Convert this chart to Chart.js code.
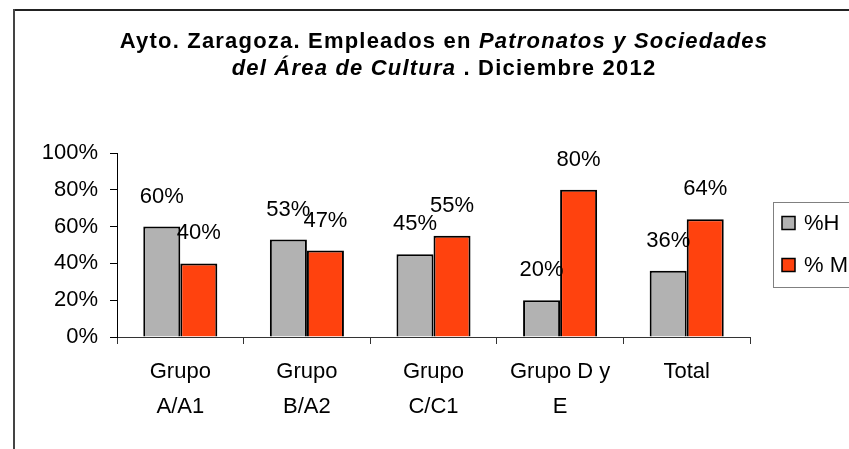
<!DOCTYPE html>
<html>
<head>
<meta charset="utf-8">
<script src="https://cdn.jsdelivr.net/npm/chart.js@4/dist/chart.umd.min.js"></script>
<style>
  body { margin: 0; background: #fff; }
  #grafico { display: block; }
</style>
</head>
<body>
<canvas id="grafico" width="849" height="449"></canvas>
<script>
// datos
const categorias = [
    ['Grupo', 'A/A1'],
    ['Grupo', 'B/A2'],
    ['Grupo', 'C/C1'],
    ['Grupo D y', 'E'],
    ['Total']
];
const porcentajeH = [60, 53, 45, 20, 36];
const porcentajeM = [40, 47, 55, 80, 64];
const nombresSeries = ['%H', '% M'];
const coloresSeries = ['#b2b2b2', '#ff420e'];

// titulo: trozos en cursiva o no
const tituloLinea1 = [
    { texto: 'Ayto. Zaragoza. Empleados en ', cursiva: false },
    { texto: 'Patronatos y Sociedades', cursiva: true }
];
const tituloLinea2 = [
    { texto: 'del Área de Cultura', cursiva: true },
    { texto: ' . Diciembre 2012', cursiva: false }
];

const fuente = '"Liberation Sans", Arial, sans-serif';

const pluginDecoracion = {
    id: 'decoracion',
    beforeDraw(chart) {
        const ctx = chart.ctx;
        ctx.save();
        // marco exterior
        ctx.strokeStyle = '#222';
        ctx.lineWidth = 2;
        ctx.beginPath();
        ctx.moveTo(14, 10);
        ctx.lineTo(849, 10);
        ctx.stroke();
        ctx.strokeStyle = '#444';
        ctx.beginPath();
        ctx.moveTo(14, 9);
        ctx.lineTo(14, 449);
        ctx.stroke();

        // titulo
        ctx.fillStyle = '#000';
        ctx.textBaseline = 'alphabetic';
        ctx.textAlign = 'left';
        ctx.letterSpacing = '1.2px';
        [[tituloLinea1, 48], [tituloLinea2, 75]].forEach(([trozos, y]) => {
            let ancho = 0;
            trozos.forEach(t => {
                ctx.font = (t.cursiva ? 'italic ' : '') + 'bold 22px ' + fuente;
                ancho += ctx.measureText(t.texto).width;
            });
            let x = 444 - ancho / 2;
            trozos.forEach(t => {
                ctx.font = (t.cursiva ? 'italic ' : '') + 'bold 22px ' + fuente;
                ctx.fillText(t.texto, x, y);
                x += ctx.measureText(t.texto).width;
            });
        });
        ctx.letterSpacing = '0px';
        ctx.restore();
    },
    afterDatasetsDraw(chart) {
        const ctx = chart.ctx;
        ctx.save();
        ctx.font = '22px ' + fuente;
        ctx.fillStyle = '#000';
        ctx.textAlign = 'center';
        ctx.textBaseline = 'middle';
        chart.data.datasets.forEach((ds, i) => {
            chart.getDatasetMeta(i).data.forEach((barra, j) => {
                ctx.fillText(ds.data[j] + '%', barra.x, barra.y - 30);
            });
        });

        // leyenda con recuadro
        ctx.strokeStyle = '#808080';
        ctx.lineWidth = 1;
        ctx.strokeRect(773.5, 202.5, 100, 85);
        ctx.textAlign = 'left';
        chart.data.datasets.forEach((ds, i) => {
            const yc = 223 + i * 42;
            ctx.fillStyle = ds.backgroundColor;
            ctx.fillRect(782, yc - 6.5, 13, 13);
            ctx.strokeStyle = '#000';
            ctx.lineWidth = 1.5;
            ctx.strokeRect(782, yc - 6.5, 13, 13);
            ctx.fillStyle = '#000';
            ctx.fillText(ds.label, 804, yc + 1);
        });
        ctx.restore();
    }
};

new Chart(document.getElementById('grafico'), {
    type: 'bar',
    data: {
        labels: categorias,
        datasets: [
            {
                label: nombresSeries[0],
                data: porcentajeH,
                backgroundColor: coloresSeries[0],
                borderColor: '#000',
                borderWidth: 2
            },
            {
                label: nombresSeries[1],
                data: porcentajeM,
                backgroundColor: coloresSeries[1],
                borderColor: '#000',
                borderWidth: 2
            }
        ]
    },
    options: {
        responsive: false,
        animation: false,
        devicePixelRatio: 1,
        categoryPercentage: 0.585,
        barPercentage: 1,
        layout: { padding: { top: 153, right: 99, left: 0, bottom: 0 } },
        plugins: {
            legend: { display: false },
            title: { display: false },
            tooltip: { enabled: false }
        },
        scales: {
            x: {
                afterFit(scale) { scale.height = 112; },
                border: { color: '#333', width: 1 },
                grid: { drawOnChartArea: false, color: '#333', tickLength: 7 },
                ticks: {
                    color: '#000',
                    padding: 10,
                    maxRotation: 0,
                    autoSkip: false,
                    font: { family: fuente, size: 22, lineHeight: '35px' }
                }
            },
            y: {
                min: 0,
                max: 100,
                afterFit(scale) { scale.width = 117; },
                border: { color: '#000', width: 1 },
                grid: { drawOnChartArea: false, color: '#000', tickLength: 7 },
                ticks: {
                    stepSize: 20,
                    color: '#000',
                    padding: 12,
                    font: { family: fuente, size: 22 },
                    callback: v => v + '%'
                }
            }
        }
    },
    plugins: [pluginDecoracion]
});
</script>
</body>
</html>
